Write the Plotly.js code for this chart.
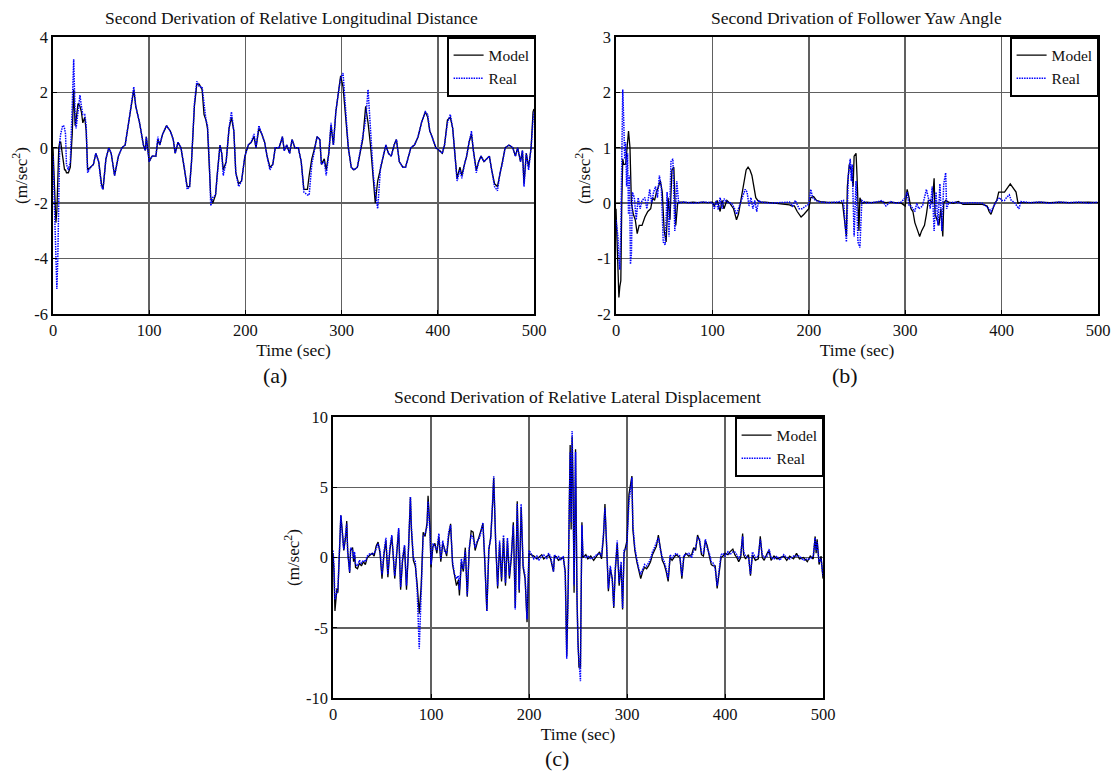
<!DOCTYPE html>
<html>
<head>
<meta charset="utf-8">
<script src="https://cdn.plot.ly/plotly-3.0.1.min.js"></script>
<style>html,body{margin:0;padding:0;background:#fff;}#chart{width:1116px;height:771px;}</style>
</head>
<body>
<div id="chart"></div>
<script>
// ---------- tick labels ----------
const xTicks = [0, 100, 200, 300, 400, 500];
const yTicksA = [-6, -4, -2, 0, 2, 4];
const yTicksB = [-2, -1, 0, 1, 2, 3];
const yTicksC = [-10, -5, 0, 5, 10];

// ---------- panel (a): Relative Longitudinal Distance ----------
const timeA = [
  0,1,2,3,4,5,6,7,8,10,
  11,12,13,14,16,18,20,21.5,23,24,
  26,28,29.5,31,33,34.5,36,39,42,44.5,
  47.5,50.4,52,55,58,60.5,64,68,71.6,75,
  79,81.6,84,86,90,94,96,97,98.7,100,
  103,107,109,111,114,118,122,125,127,130,
  133,136.5,139.5,142,144,147,149.5,152,155,157,
  159,160.6,162.5,164,166,169,170.6,173.6,175.4,177,
  180,183,185.5,188,190,193,196,199.5,203,206,
  209,211,214,217,220,222.5,225.5,228.5,231,235,
  238.5,240.4,243,246,248.5,251.5,255,258,260.8,264.5,
  266.3,269,272,274.5,277.4,279,282,284,286.7,289,
  291.5,294,296.7,299,301.5,304,307,310,312.7,316.4,
  319,322,325,327.5,330,333,335,337.5,340.5,343.5,
  346,348.7,351.6,354.6,357,360,363.5,366.5,369.4,372,
  375.7,379.5,383,387,389.5,391.7,394,398,401.7,404.7,
  407,410,413,415.5,417.7,420,423,425,427.7,430,
  432.5,435,437,440,442.5,445,448,451,453.6,456,
  459,462,464.7,467,470,474,478,480.7,483,486,
  488,489.6,492,494.4,497,499,500
];
const modelA = [
  0,-0.8,-2.0,-2.7,-2.3,-1.0,0.0,0.2,0.2,-0.3,
  -0.7,-0.8,-0.8,-0.9,-0.9,-0.7,0.5,2.1,0.8,1.0,
  1.6,1.5,1.3,0.9,1.1,0.6,-0.8,-0.7,-0.6,-0.2,
  -0.5,-1.3,-1.5,-0.4,0,-0.2,-1.0,-0.3,0,0.1,
  1.0,1.6,2.1,1.5,0.9,0.1,-0.1,0.4,-0.1,-0.5,
  -0.3,-0.3,0.3,0.1,0.5,0.8,0.6,0.3,-0.2,0.2,
  0,-0.7,-1.4,-1.4,-0.5,1.5,2.3,2.3,2.1,1.2,
  1.0,0.7,-0.5,-1.8,-2.0,-1.7,-1.0,0.1,-0.2,-0.8,
  -0.5,0.7,1.1,0.6,-0.9,-1.3,-1.2,-0.3,0.1,0.2,
  0.4,0,0.7,0.5,0.2,-0.3,-0.7,-0.6,0,0,
  0.4,-0.1,0.1,-0.2,0.3,0,0,-0.5,-1.5,-1.5,
  -1.0,-0.4,0,0.4,0.3,-0.6,-0.4,-0.8,-0.2,0.8,
  0.1,1.3,2.0,2.6,2.2,1.2,0,-0.7,-0.8,-0.7,
  -0.2,0.3,1.5,0.9,0.1,-1.0,-2.0,-1.2,-0.7,-0.3,
  0.1,-0.2,-0.3,0.1,0.3,-0.5,-0.7,-0.7,-0.3,0,
  0.1,0.4,0.9,1.3,1.1,0.6,0.4,0,-0.1,-0.2,
  0.1,1.0,1.1,0.7,-0.2,-1.1,-0.7,-1.0,-0.6,-0.3,
  0.2,0.5,-0.1,-0.8,-0.5,-0.3,-0.5,-0.4,-0.3,-0.8,
  -1.3,-1.4,-0.9,-0.6,0,0.1,0,-0.3,0,-0.5,
  -0.1,-1.3,-0.2,-0.7,0,1.3,1.4
];
const realA = [
  -0.3,-1.5,-3.5,-4.5,-5.1,-4.0,-2.0,0.2,0.5,0.8,
  0.8,0.7,0.5,-0.6,-0.8,-0.5,1.5,3.2,1.2,0.7,
  1.3,1.9,1.5,1.2,1.2,0.8,-0.9,-0.7,-0.6,-0.2,
  -0.5,-1.4,-1.5,-0.4,0,-0.2,-1.0,-0.3,0,0.1,
  1.0,1.6,2.2,1.5,0.9,0.1,-0.1,0.4,-0.1,-0.5,
  -0.3,-0.3,0.4,0.1,0.5,0.8,0.6,0.3,-0.2,0.2,
  0,-0.7,-1.5,-1.4,-0.5,1.6,2.4,2.2,2.2,1.5,
  1.0,0.8,-0.5,-2.1,-1.8,-1.7,-1.0,0.1,-0.2,-1.0,
  -0.5,0.7,1.3,0.6,-0.9,-1.4,-1.2,-0.3,0.1,0.2,
  0.5,0,0.8,0.5,0.2,-0.3,-0.8,-0.6,0,0,
  0.4,-0.1,0.1,-0.2,0.3,0,0,-0.5,-1.6,-1.7,
  -1.7,-0.6,0,0.4,0.3,-0.6,-0.5,-1.0,-0.2,0.9,
  0.1,1.3,2.0,2.5,2.7,1.6,0,-0.7,-0.8,-0.7,
  -0.2,0.3,1.0,2.1,0.5,-1.0,-1.6,-2.2,-0.7,-0.3,
  0.1,-0.2,-0.3,0.1,0.3,-0.5,-0.7,-0.7,-0.3,0,
  0.1,0.4,0.9,1.3,1.2,0.6,0.4,0,-0.1,-0.2,
  0.1,0.9,1.2,0.7,-0.2,-1.2,-0.8,-1.1,-0.6,-0.3,
  0.2,0.6,-0.1,-0.9,-0.5,-0.3,-0.5,-0.4,-0.3,-0.8,
  -1.4,-1.55,-0.9,-0.6,0,0.1,0,-0.3,0,-0.5,
  -0.1,-1.4,-0.2,-0.8,0,1.0,1.3
];

// ---------- panel (b): Follower Yaw Angle  [time, value] ----------
const modelB = [
  [0,-0.1],[1,-0.8],[2,-1.5],[3,-1.7],[4,-1.5],[5,-1.4],[6,0],[7,0.8],[8,0.7],[10,0.7],
  [12,1.1],[13,1.3],[14.5,1.0],[16,0],[18,-0.2],[20,-0.3],[22,-0.55],[24,-0.4],[27,-0.4],[30,-0.25],
  [33,-0.15],[36,-0.1],[38,0.1],[40,0.05],[42,0.2],[44,0.3],[46,0.4],[48,0.2],[50,-0.5],[52,-0.7],
  [54,0.1],[56,-0.3],[58,0.6],[60,0.65],[62,-0.4],[64,0],[66,0.02],[70,0.02],[75,0.01],[80,0.02],
  [85,0.01],[90,0.02],[95,0.01],[100,0.02],[102,-0.05],[105,0.05],[108,-0.15],[110,0.05],[112,-0.1],[115,0.05],
  [118,0],[122,-0.1],[125,-0.3],[127,-0.2],[130,0.1],[133,0.4],[135,0.6],[137,0.65],[139,0.6],[141,0.5],
  [143,0.3],[145,0.1],[147,0.05],[150,0.02],[155,0.02],[160,0.01],[165,0],[170,-0.02],[175,-0.02],[180,-0.03],
  [182,-0.05],[185,-0.05],[188,-0.15],[192,-0.25],[195,-0.2],[198,-0.15],[200,-0.1],[202,0.1],[205,0.12],[208,0.05],
  [212,0.03],[218,0.02],[225,0.02],[232,0.01],[235,0],[237,-0.3],[239,-0.6],[240,0.3],[242,0.7],[244,0.6],
  [246,0.3],[247,0.85],[249,0.9],[250,0.5],[251,-0.2],[252,-0.5],[253,0.1],[255,0],[260,0.02],[265,0.01],
  [270,0.02],[275,0.03],[280,0.01],[285,0.02],[290,0.01],[296,0],[300,-0.05],[302,0.25],[304,0.1],[306,-0.1],
  [308,-0.15],[310,-0.35],[313,-0.5],[315,-0.6],[317,-0.5],[320,-0.4],[322,-0.2],[324,0.05],[326,0.05],[328,0],
  [330,0.45],[331,-0.2],[333,-0.3],[335,-0.4],[337,-0.1],[338,-0.5],[339,-0.6],[340,0],[342,0.05],[345,0.02],
  [350,0],[355,0.03],[360,-0.02],[370,-0.02],[380,-0.02],[385,-0.05],[387,-0.15],[389,-0.2],[391,-0.1],[393,0],
  [395,0.05],[397,0.2],[400,0.2],[403,0.2],[405,0.25],[407,0.3],[409,0.35],[411,0.3],[413,0.25],[415,0.2],
  [417,0],[420,0.01],[430,0.01],[440,0.02],[450,0.01],[460,0.02],[470,0.01],[480,0.02],[490,0.02],[500,0.01]
];
const realB = [
  [0,-0.3],[1,-0.5],[2,-0.6],[3,-1.0],[4,-1.2],[5,-0.5],[6,1.0],[7,2.05],[8,1.5],[9,0.8],
  [10,1.1],[11,0.3],[12,0.9],[13,-0.2],[14,0.5],[15,-1.1],[16,-0.9],[17,0.2],[19,0.1],[21,-0.3],
  [23,0.1],[25,-0.1],[27,0.05],[30,0.1],[32,-0.1],[35,0.25],[37,0],[39,0.2],[41,0.3],[43,0.1],
  [45,0.5],[47,0.3],[49,-0.7],[51,-0.75],[53,0.2],[55,-0.6],[57,0.75],[59,0.8],[61,-0.5],[63,0.4],
  [65,0],[70,0.02],[80,0],[90,0.02],[100,0.01],[102,-0.1],[104,0.05],[106,-0.12],[108,0.1],[110,-0.1],
  [112,0.08],[115,0.02],[120,0],[123,-0.1],[125,-0.2],[128,-0.05],[131,0.1],[134,0.25],[136,0.2],[138,-0.05],
  [140,0.1],[142,-0.1],[144,0.05],[146,-0.15],[148,0.05],[150,0.02],[160,0],[170,0.01],[180,0.02],[183,-0.05],
  [186,0.05],[190,-0.1],[193,-0.1],[197,-0.05],[200,-0.02],[202,0.25],[204,0.1],[207,0.05],[212,0.02],[220,0.01],
  [230,0.02],[236,0.05],[238,-0.4],[239,-0.7],[241,0.5],[243,0.8],[244,0.4],[245,0.7],[247,-0.6],[249,0.4],
  [251,-0.7],[253,-0.8],[255,0.05],[260,0],[270,0.02],[276,0.05],[280,-0.05],[285,0.03],[290,0],[296,0.02],
  [300,0.1],[302,0.2],[304,-0.05],[306,-0.05],[308,-0.1],[310,-0.15],[312,0],[314,-0.1],[318,-0.05],[322,0.25],
  [324,0.1],[326,-0.1],[328,0.3],[330,-0.5],[332,0.2],[334,-0.4],[336,0.35],[338,-0.5],[340,0.35],[342,0.55],
  [343,-0.1],[345,0],[350,0.02],[360,0],[370,0.01],[380,0],[387,-0.1],[389,-0.15],[392,-0.05],[395,0.05],
  [398,0.1],[400,0.05],[403,0.05],[405,0.1],[408,0.15],[410,0.05],[413,0.02],[416,-0.05],[418,-0.1],[420,0.03],
  [430,0.01],[440,0.02],[450,0],[460,0.02],[470,0.01],[480,0.02],[490,0],[500,0.02]
];

// ---------- panel (c): Relative Lateral Displacement  [time, value] ----------
const modelC = [
  [0,0.3],[1,-1.0],[2,-3.8],[4,-2.2],[5,-2.5],[7,1.0],[8,3.0],[10,1.5],[11,0.5],[13,1.5],
  [14,2.6],[15,0.5],[17,-1.1],[18,0.5],[20,0.7],[21,-0.3],[22,0.2],[23,-0.7],[25,-0.8],[27,-0.4],
  [29,-0.6],[31,-0.3],[33,-0.5],[35,0],[38,0.2],[40,0.3],[42,0.1],[44,0.8],[46,1.1],[48,0.3],
  [50,-1.5],[52,0.2],[54,1.2],[56,-1.4],[58,0.5],[60,1.5],[61,0.6],[63,-1.5],[65,0.2],[67,2.0],
  [69,-2.3],[71,-0.2],[73,0.8],[75,-2.3],[77,0.5],[79,4.3],[80,2.0],[82,-0.2],[84,-0.6],[86,-2.0],
  [88,-4.0],[90,-2.0],[92,1.8],[94,1.5],[96,2.5],[97,4.4],[99,2.0],[100,-0.7],[102,0.8],[104,1.0],
  [106,0.3],[108,1.5],[110,-0.3],[112,1.0],[114,0.6],[116,0.1],[118,1.5],[120,2.4],[122,-0.5],[124,-1.4],
  [126,-2.0],[128,-1.6],[129,-2.7],[131,-0.3],[133,-1.0],[135,0.7],[137,-2.8],[139,0.5],[141,1.9],[143,1.8],
  [145,0.5],[147,1.0],[149,1.5],[151,2.0],[153,2.4],[155,-0.5],[157,-3.8],[159,0.5],[161,1.5],[163,4.0],
  [164,5.7],[166,1.0],[168,-2.2],[170,1.0],[172,-1.7],[174,1.4],[176,-2.0],[178,1.2],[180,-1.5],[182,0],
  [184,2.5],[186,-3.6],[188,4.0],[190,-2.5],[192,3.6],[194,-0.7],[196,-1.5],[198,-4.6],[200,0.3],[202,0.2],
  [205,0.1],[208,-0.1],[210,0],[213,0.2],[215,-0.1],[218,0.1],[220,0.2],[222,-0.1],[225,-1.0],[226,0.1],
  [228,0.05],[230,-0.2],[232,-0.1],[235,0],[237,-1.0],[238.5,-7.0],[240,-2.0],[241,3.0],[242,8.0],[243,2.0],
  [244,8.6],[245,5.0],[246,-2.5],[247.5,7.7],[248,2.0],[249,-3.0],[250,-6.0],[251,-7.8],[252.5,-7.8],[253,-3.0],
  [254,2.5],[255,0],[258,0.2],[260,-0.1],[263,0.1],[266,-0.2],[269,0.1],[272,0.4],[274,-0.1],[276,1.5],
  [277.5,3.8],[279,1.5],[281,-2.4],[283,-0.8],[285,-1.5],[286.5,-3.6],[288,-1.0],[290,1.0],[292,-2.0],[294,-0.5],
  [295.5,-3.7],[297,0.3],[299,0.8],[300,1.2],[302,4.5],[304,5.3],[305,5.8],[306,2.0],[308,0.5],[310,-0.3],
  [312,-1.0],[314,-1.5],[316,-1.0],[318,-0.7],[320,-0.8],[322,-0.6],[324,-0.3],[326,0.2],[328,0.5],[330,0.8],
  [332,1.6],[334,0.8],[336,-0.2],[338,-0.5],[340,-1.0],[342,-1.7],[344,0],[346,-0.2],[350,0.2],[354,0],
  [356,-1.5],[358,0],[360,0.3],[363,0.1],[366,0.2],[368,0.7],[370,0.5],[372,1.6],[374,1.2],[376,0.2],
  [378,0.1],[380,1.2],[382,0.8],[384,0.1],[386,-0.5],[388,-0.6],[390,-0.6],[392,-2.2],[394,-1.0],[396,0],
  [398,0.1],[400,0.3],[403,0.2],[405,0.4],[408,0.6],[410,0.2],[412,0],[414,-0.3],[416,0],[418,1.7],
  [419,0.2],[421,-0.1],[424,0.2],[426,-1.3],[428,0.2],[431,-0.2],[434,-0.1],[436,1.5],[438,0],[440,-0.2],
  [443,0.3],[445,0.5],[447,-0.2],[450,0.1],[453,-0.1],[456,0],[460,0.1],[463,-0.2],[466,0.1],[470,-0.1],
  [473,0.3],[476,-0.1],[480,0],[484,-0.3],[487,0.1],[490,-0.1],[492,1.5],[493,0.3],[494,1.3],[496,-0.5],
  [498,0.1],[500,-1.5]
];
const realC = [
  [0,0.5],[1,-0.6],[2,-3.0],[4,-2.4],[5,-2.2],[7,1.2],[8,3.0],[10,1.2],[11,0.6],[13,1.8],
  [14,2.4],[15,0.3],[17,-1.0],[18,0.7],[20,0.5],[21,-0.1],[22,0.4],[23,-0.5],[25,-0.6],[27,-0.2],
  [29,-0.4],[31,-0.2],[33,-0.3],[35,0.1],[38,0.3],[40,0.2],[42,0.3],[44,0.6],[46,1.0],[48,0.5],
  [50,-1.2],[52,0.4],[54,1.4],[56,-1.2],[58,0.7],[60,1.6],[61,0.4],[63,-1.3],[65,0.4],[67,2.1],
  [69,-2.1],[71,0],[73,0.9],[75,-2.0],[77,0.6],[79,4.3],[80,2.2],[82,0],[84,-0.3],[86,-2.5],
  [88,-6.5],[90,-2.5],[92,1.5],[94,1.7],[96,2.2],[97,4.0],[99,1.8],[100,-0.5],[102,1.0],[104,0.8],
  [106,0.5],[108,1.7],[110,-0.1],[112,1.2],[114,0.4],[116,0.3],[118,1.8],[120,2.3],[122,-0.3],[124,-1.2],
  [126,-1.5],[128,-1.3],[129,-2.3],[131,-0.1],[133,-0.8],[135,0.5],[137,-2.7],[139,0.7],[141,1.6],[143,1.4],
  [145,0.7],[147,1.2],[149,1.3],[151,1.8],[153,2.5],[155,-0.3],[157,-3.8],[159,0.7],[161,1.3],[163,4.2],
  [164,5.8],[166,1.2],[168,-2.0],[170,1.2],[172,-1.5],[174,1.6],[176,-1.8],[178,1.4],[180,-1.3],[182,0.2],
  [184,2.3],[186,-3.7],[188,3.8],[190,-2.3],[192,3.8],[194,-0.5],[196,-1.3],[198,-4.4],[200,0.5],[202,0.3],
  [205,-0.1],[208,0.1],[210,-0.2],[213,0.1],[215,0.2],[218,-0.1],[220,0.3],[222,0.1],[225,-1.0],[226,0.2],
  [228,-0.1],[230,0.1],[232,-0.2],[235,0.1],[237,-1.2],[238.5,-7.2],[240,-2.5],[241,3.3],[242,7.5],[243,2.5],
  [244,9.0],[245,4.5],[246,-2.0],[247.5,7.5],[248,2.3],[249,-2.7],[250,-6.3],[251,-7.5],[252.5,-8.8],[253,-3.5],
  [254,2.3],[255,0.2],[258,0],[260,0.1],[263,-0.1],[266,0],[269,0.2],[272,0.3],[274,0.1],[276,1.7],
  [277.5,3.5],[279,1.3],[281,-2.2],[283,-0.6],[285,-1.7],[286.5,-3.5],[288,-0.8],[290,1.2],[292,-1.8],[294,-0.3],
  [295.5,-3.6],[297,0.5],[299,0.6],[300,1.0],[302,4.0],[304,5.0],[305,5.7],[306,2.3],[308,0.7],[310,-0.1],
  [312,-0.8],[314,-1.2],[316,-0.8],[318,-0.5],[320,-0.6],[322,-0.4],[324,-0.1],[326,0.4],[328,0.7],[330,1.0],
  [332,1.4],[334,0.6],[336,0],[338,-0.3],[340,-0.8],[342,-1.5],[344,0.2],[346,0],[350,0.3],[354,0.1],
  [356,-1.3],[358,0.2],[360,0.2],[363,0.3],[366,0],[368,0.5],[370,0.7],[372,1.4],[374,1.3],[376,0.4],
  [378,0.3],[380,1.3],[382,0.6],[384,0.3],[386,-0.3],[388,-0.4],[390,-0.8],[392,-2.0],[394,-0.8],[396,0.2],
  [398,0.3],[400,0.1],[403,0.4],[405,0.2],[408,0.4],[410,0.4],[412,0.2],[414,-0.1],[416,0.2],[418,1.5],
  [419,0.4],[421,0.1],[424,0],[426,-1.2],[428,0.4],[431,0],[434,0.1],[436,1.3],[438,0.2],[440,0],
  [443,0.1],[445,0.6],[447,0],[450,-0.1],[453,0.1],[456,-0.2],[460,0.2],[463,0],[466,-0.1],[470,0.1],
  [473,0.1],[476,0.1],[480,-0.2],[484,-0.1],[487,-0.1],[490,0.1],[492,1.4],[493,0.5],[494,1.1],[496,-0.3],
  [498,-0.1],[500,-1.3]
];

// ---------- drawing ----------
const FONT = 'Liberation Serif, Times New Roman, serif';
const modelLine = {color: '#000000', width: 1.3, dash: 'solid'};
const realLine = {color: '#0000ff', width: 1.5, dash: '1.5px,1px'};

function col(pairs, i) { return pairs.map(p => p[i]); }

const traces = [
  {x: timeA, y: modelA, name: 'Model', type: 'scatter', mode: 'lines', line: modelLine, xaxis: 'x', yaxis: 'y', legend: 'legend'},
  {x: timeA, y: realA, name: 'Real', type: 'scatter', mode: 'lines', line: realLine, xaxis: 'x', yaxis: 'y', legend: 'legend'},
  {x: col(modelB,0), y: col(modelB,1), name: 'Model', type: 'scatter', mode: 'lines', line: modelLine, xaxis: 'x2', yaxis: 'y2', legend: 'legend2'},
  {x: col(realB,0), y: col(realB,1), name: 'Real', type: 'scatter', mode: 'lines', line: realLine, xaxis: 'x2', yaxis: 'y2', legend: 'legend2'},
  {x: col(modelC,0), y: col(modelC,1), name: 'Model', type: 'scatter', mode: 'lines', line: modelLine, xaxis: 'x3', yaxis: 'y3', legend: 'legend3'},
  {x: col(realC,0), y: col(realC,1), name: 'Real', type: 'scatter', mode: 'lines', line: realLine, xaxis: 'x3', yaxis: 'y3', legend: 'legend3'}
];

const W = 1116, H = 771;
const px = v => v / W;
const py = v => 1 - v / H;

function xAxis(l, r, anchor) {
  return {
    domain: [px(l), px(r)], anchor: anchor, range: [0, 500],
    tickvals: xTicks, ticktext: xTicks.map(String),
    showgrid: true, gridcolor: '#606060', gridwidth: 1.5, zeroline: false,
    showline: true, mirror: true, linecolor: '#000', linewidth: 1.8,
    ticks: 'inside', ticklen: 4, tickcolor: '#000',
    tickfont: {family: FONT, size: 16.5, color: '#111'},
    title: {text: 'Time (sec)', font: {family: FONT, size: 17.5, color: '#111'}, standoff: 2},
    automargin: false, fixedrange: true
  };
}
function yAxis(t, b, anchor, ticks) {
  return {
    domain: [py(b), py(t)], anchor: anchor, range: [ticks[0], ticks[ticks.length - 1]],
    tickvals: ticks, ticktext: ticks.map(String),
    showgrid: true, gridcolor: '#606060', gridwidth: 1.5, zeroline: false,
    showline: true, mirror: true, linecolor: '#000', linewidth: 1.8,
    ticks: 'inside', ticklen: 4, tickcolor: '#000',
    tickfont: {family: FONT, size: 16.5, color: '#111'},
    title: {text: '(m/sec<sup>2</sup>)', font: {family: FONT, size: 17, color: '#111'}, standoff: 2},
    automargin: false, fixedrange: true
  };
}
function legendBox(right, top) {
  return {
    x: px(right), y: py(top), xanchor: 'right', yanchor: 'top',
    bgcolor: '#ffffff', bordercolor: '#000000', borderwidth: 1.6,
    font: {family: FONT, size: 15.5, color: '#111'},
    tracegroupgap: 0, itemwidth: 30
  };
}
function label(text, x, y, size) {
  return {text: text, x: px(x), y: py(y), xref: 'paper', yref: 'paper', xanchor: 'center', yanchor: 'middle',
          showarrow: false, font: {family: FONT, size: size, color: '#111'}};
}

const layout = {
  width: W, height: H,
  margin: {l: 0, r: 0, t: 0, b: 0, pad: 0},
  paper_bgcolor: '#ffffff', plot_bgcolor: '#ffffff',
  showlegend: true,
  font: {family: FONT, color: '#111'},
  xaxis: xAxis(53, 534, 'y'),
  yaxis: yAxis(37, 314, 'x', yTicksA),
  xaxis2: xAxis(616, 1098, 'y2'),
  yaxis2: yAxis(37, 314, 'x2', yTicksB),
  xaxis3: xAxis(333, 823, 'y3'),
  yaxis3: yAxis(417, 698, 'x3', yTicksC),
  legend: legendBox(536, 37),
  legend2: legendBox(1099, 37),
  legend3: legendBox(824, 417),
  annotations: [
    label('Second Derivation of Relative Longitudinal Distance', 291, 18, 17.5),
    label('Second Drivation of Follower Yaw Angle', 856, 18, 17.5),
    label('Second Derivation of Relative Lateral Displacement', 578, 397, 17.5),
    label('(a)', 275, 375, 22),
    label('(b)', 845, 375, 22),
    label('(c)', 557, 758, 22)
  ]
};

Plotly.newPlot('chart', traces, layout, {staticPlot: true, displayModeBar: false});
</script>
</body>
</html>
